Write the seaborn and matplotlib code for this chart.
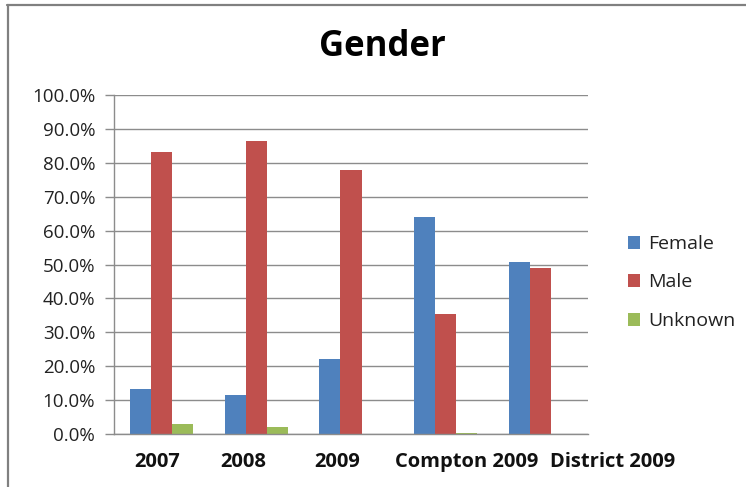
import matplotlib
matplotlib.use("Agg")
import matplotlib.pyplot as plt
import matplotlib.transforms as mtransforms
from matplotlib.lines import Line2D
from matplotlib.ticker import FuncFormatter, MultipleLocator
import pandas as pd
import seaborn as sns

categories = ["2007", "2008", "2009", "Compton 2009", "District 2009"]
female = [13.2, 11.4, 22.2, 64.1, 50.8]
male = [83.2, 86.4, 77.8, 35.4, 49.1]
unknown = [3.1, 2.0, 0.0, 0.3, 0.0]
series_names = ["Female", "Male", "Unknown"]
series_colors = ["#4F81BD", "#C0504D", "#9BBB59"]

rows = []
for name, vals in zip(series_names, [female, male, unknown]):
    for cat, v in zip(categories, vals):
        rows.append({"category": cat, "gender": name, "value": v})
df = pd.DataFrame(rows)

sns.set_theme(style="white")
plt.rcParams["font.family"] = ["Open Sans", "DejaVu Sans"]

fig = plt.figure(figsize=(7.46, 4.87), dpi=100)
ax = fig.add_axes([0.1528, 0.1088, 0.6354, 0.6961])

sns.barplot(data=df, x="category", y="value", hue="gender",
            order=categories, hue_order=series_names,
            palette=series_colors, saturation=1, width=0.667, gap=0,
            ax=ax, legend=True, edgecolor="none")

ax.set_ylim(0, 100)
ax.set_xlim(-0.5, len(categories) - 0.5)
ax.yaxis.set_major_locator(MultipleLocator(10))
ax.yaxis.set_major_formatter(FuncFormatter(lambda v, _: f"{v:.1f}%"))
ax.set_xlabel("")
ax.set_ylabel("")

grid_color = "#8C8C8C"
ax.grid(axis="y", color=grid_color, linewidth=1.0)
ax.set_axisbelow(True)
for side in ["top", "right"]:
    ax.spines[side].set_visible(False)
for side in ["left", "bottom"]:
    ax.spines[side].set_color(grid_color)
    ax.spines[side].set_linewidth(1.0)

ax.tick_params(axis="y", which="major", left=True, length=6.5, width=1.0,
               color=grid_color, labelsize=13.5, labelcolor="#222222", pad=7)
ax.tick_params(axis="x", bottom=False, labelsize=14.5, pad=7)
for lbl in ax.get_xticklabels():
    lbl.set_fontweight("bold")
    lbl.set_color("#111111")

# horizontal shifts of the category labels (points)
label_shift = [-3, -9, -10, 15, 52]
for lbl, dx in zip(ax.get_xticklabels(), label_shift):
    lbl.set_transform(lbl.get_transform() +
                      mtransforms.ScaledTranslation(dx / 72, 0, fig.dpi_scale_trans))

fig.text(0.512, 0.903, "Gender", ha="center", va="center",
         fontsize=25, fontweight="bold", color="#000000")

handles, labels = ax.get_legend_handles_labels()
ax.get_legend().remove()
fig.legend(handles, labels, loc="center left", bbox_to_anchor=(0.818, 0.42),
           frameon=False, fontsize=14, handlelength=0.65, handleheight=0.65,
           handletextpad=0.4, labelspacing=1.05, labelcolor="#222222")

# chart frame
fig.add_artist(Line2D([7 / 746, 1.0], [1 - 5 / 487, 1 - 5 / 487],
                      transform=fig.transFigure, color="#808080", linewidth=1.6))
fig.add_artist(Line2D([8 / 746, 8 / 746], [0.0, 1 - 5 / 487],
                      transform=fig.transFigure, color="#808080", linewidth=1.6))

fig.savefig("out.png", dpi=100)
